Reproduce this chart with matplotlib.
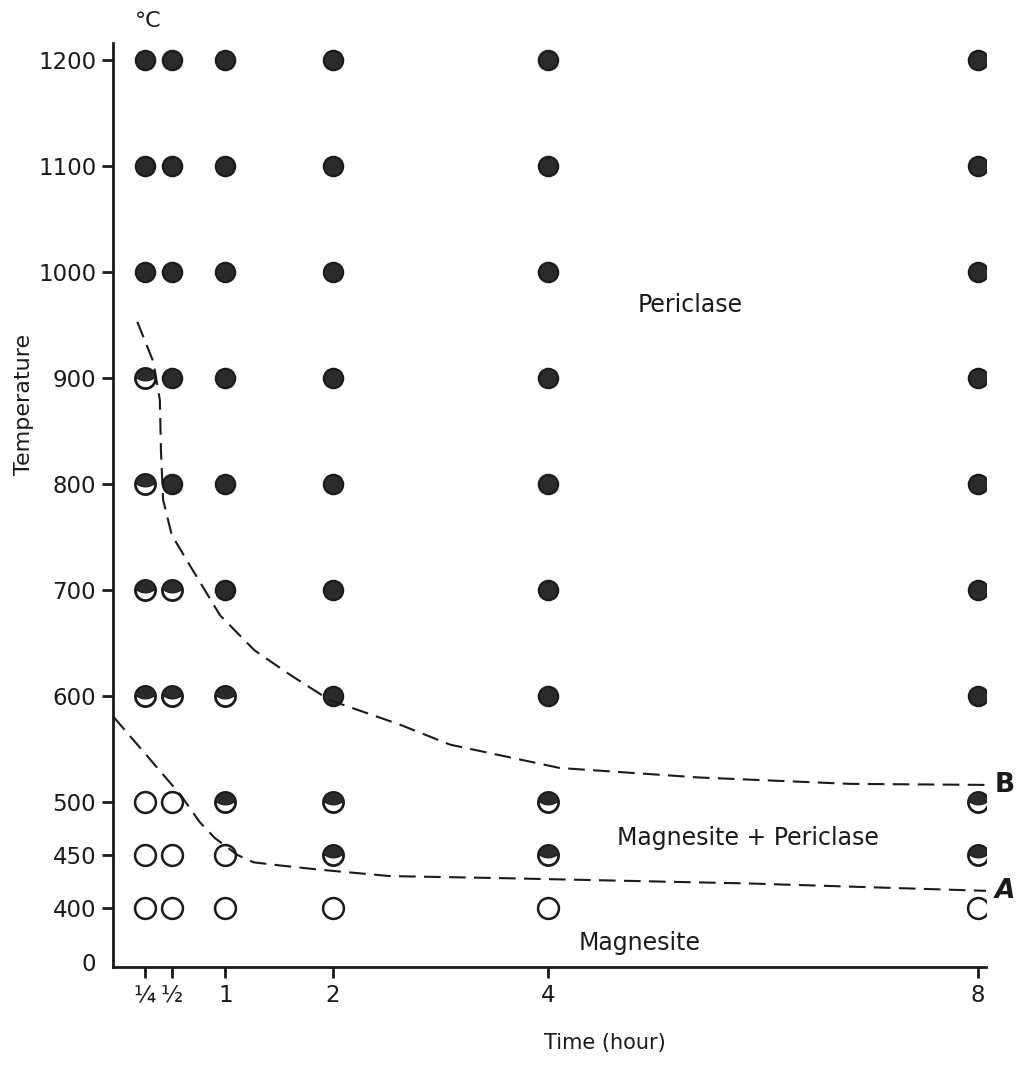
import numpy as np
import matplotlib.pyplot as plt
from matplotlib.path import Path

# sample times (hours) and temperatures (deg C)
times = [0.25, 0.5, 1, 2, 4, 8]
temps = [400, 450, 500, 600, 700, 800, 900, 1000, 1100, 1200]

# phase found at each time, from 400 up to 1200
# O = magnesite, H = magnesite + periclase, F = periclase
phases = {
    0.25: ['O', 'O', 'O', 'H', 'H', 'H', 'H', 'F', 'F', 'F'],
    0.5:  ['O', 'O', 'O', 'H', 'H', 'F', 'F', 'F', 'F', 'F'],
    1:    ['O', 'O', 'H', 'H', 'F', 'F', 'F', 'F', 'F', 'F'],
    2:    ['O', 'H', 'H', 'F', 'F', 'F', 'F', 'F', 'F', 'F'],
    4:    ['O', 'H', 'H', 'F', 'F', 'F', 'F', 'F', 'F', 'F'],
    8:    ['O', 'H', 'H', 'F', 'F', 'F', 'F', 'F', 'F', 'F'],
}

# boundary B (periclase / mixed)
curve_b_time = [0.18, 0.33, 0.39, 0.40, 0.42, 0.50, 0.64, 0.95, 1.27, 1.60,
                1.97, 2.62, 3.09, 4.11, 5.41, 6.81, 8.07]
curve_b_temp = [953, 915, 879, 832, 785, 752, 728, 676, 643, 620,
                596, 573, 554, 532, 523, 517, 516]

# boundary A (mixed / magnesite)
curve_a_time = [-0.04, 0.30, 0.46, 0.58, 0.76, 0.90, 1.11, 1.26, 1.51, 1.88,
                2.53, 3.60, 5.88, 8.10]
curve_a_temp = [580, 540, 521, 507, 481, 466, 450, 443, 440, 436,
                430, 428, 423, 416]

xtick_labels = ['¼', '½', '1', '2', '4', '8']
ytick_vals = [349, 400, 450, 500, 600, 700, 800, 900, 1000, 1100, 1200]
ytick_labels = ['0', '400', '450', '500', '600', '700', '800', '900', '1000', '1100', '1200']

ink = '#1a1a1a'
dark = '#2b2b2b'

# top cap of a circle with a "smile" lower edge, for the half-converted points
ang = np.linspace(np.radians(8), np.radians(172), 30)
cap = list(zip(np.cos(ang), np.sin(ang)))
smile_x = np.linspace(-0.99, 0.99, 25)
smile_y = 0.14 - 0.38 * (1 - smile_x ** 2)
cap += list(zip(smile_x, smile_y))
cap.append(cap[0])
cap_marker = Path(cap, closed=True)

fig = plt.figure(figsize=(10.17, 10.88), dpi=100)
ax = fig.add_axes([0.111, 0.111, 0.859, 0.8495])

for t in times:
    for temp, ph in zip(temps, phases[t]):
        if ph == 'F':
            ax.plot(t, temp, 'o', ms=14, mfc=dark, mec=ink, mew=1.5)
        elif ph == 'H':
            ax.plot(t, temp, 'o', ms=14.5, mfc='white', mec=ink, mew=2)
            ax.plot(t, temp, marker=cap_marker, ms=14.5, mfc=dark, mec=ink,
                    mew=0.8, ls='none')
        else:
            ax.plot(t, temp, 'o', ms=15, mfc='white', mec=ink, mew=1.8)

ax.plot(curve_b_time, curve_b_temp, color=ink, lw=1.5, dashes=(8, 4))
ax.plot(curve_a_time, curve_a_temp, color=ink, lw=1.5, dashes=(8, 4))

ax.set_xlim(-0.047, 8.08)
ax.set_ylim(344, 1216)

ax.set_xticks(times)
ax.set_xticklabels(xtick_labels)
ax.set_yticks(ytick_vals)
ax.set_yticklabels(ytick_labels)
ax.yaxis.get_major_ticks()[0].tick1line.set_visible(False)

ax.tick_params(axis='both', direction='out', length=8, width=2, colors=ink,
               labelsize=16.5, pad=4)

for side in ['top', 'right']:
    ax.spines[side].set_visible(False)
for side in ['left', 'bottom']:
    ax.spines[side].set_linewidth(2)
    ax.spines[side].set_color(ink)

ax.text(5.32, 969, 'Periclase', fontsize=17, color=ink, ha='center', va='center')
ax.text(5.86, 466, 'Magnesite + Periclase', fontsize=17, color=ink, ha='center', va='center')
ax.text(4.85, 367, 'Magnesite', fontsize=17, color=ink, ha='center', va='center')

ax.text(8.16, 516, 'B', fontsize=19, fontweight='bold', color=ink,
        ha='left', va='center', clip_on=False)
ax.text(8.16, 416, 'A', fontsize=19, fontweight='bold', style='italic', color=ink,
        ha='left', va='center', clip_on=False)

fig.text(0.146, 0.981, '°C', fontsize=16, color=ink, ha='center', va='center')
fig.text(0.024, 0.628, 'Temperature', fontsize=16, color=ink, rotation=90,
         ha='center', va='center')
fig.text(0.595, 0.041, 'Time (hour)', fontsize=15, color=ink, ha='center', va='center')

fig.savefig('out.png', dpi=100)
